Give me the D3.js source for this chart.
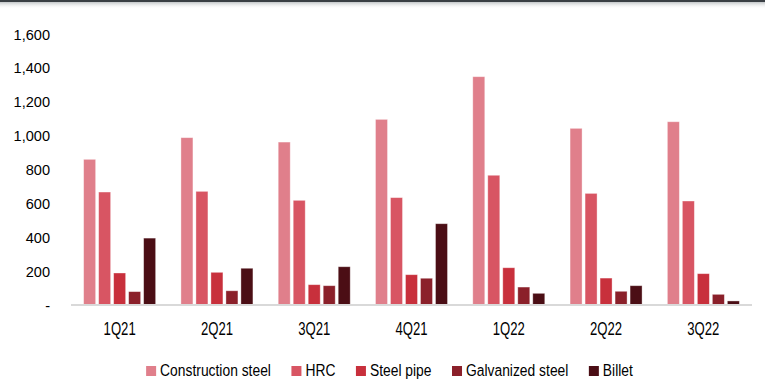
<!DOCTYPE html>
<html><head><meta charset="utf-8">
<script src="https://cdn.jsdelivr.net/npm/d3@7"></script>
<style>
html,body{margin:0;padding:0;background:#fff;}
svg{display:block;}
</style></head>
<body>
<svg id="chart" width="765" height="391"></svg>
<script>
const categories = ["1Q21","2Q21","3Q21","4Q21","1Q22","2Q22","3Q22"];
const seriesNames = ["Construction steel","HRC","Steel pipe","Galvanized steel","Billet"];
const constructionSteel = [857, 985, 959, 1093, 1345, 1040, 1079];
const hrc = [664, 668, 615, 631, 763, 656, 611];
const steelPipe = [186, 190, 117, 176, 217, 156, 182];
const galvanizedSteel = [76, 81, 111, 155, 103, 78, 60];
const billet = [392, 214, 223, 477, 66, 111, 21];
const yTicks = [0, 200, 400, 600, 800, 1000, 1200, 1400, 1600];
const colors = ["#e07f8b", "#d85563", "#c8303c", "#8b202a", "#4b0e15"];

(function(){
const seriesValues = [constructionSteel, hrc, steelPipe, galvanizedSteel, billet];
const svg = d3.select("#chart");
const FONT = "'Liberation Sans', Arial, Helvetica, sans-serif";

// top frame line with subtle shadow
const defs = svg.append("defs");
const grad = defs.append("linearGradient").attr("id","shadow").attr("x1",0).attr("y1",0).attr("x2",0).attr("y2",1);
grad.append("stop").attr("offset","0%").attr("stop-color","#9aa0a4").attr("stop-opacity",0.6);
grad.append("stop").attr("offset","100%").attr("stop-color","#ffffff").attr("stop-opacity",0);
svg.append("rect").attr("x",0).attr("y",2).attr("width",765).attr("height",7).attr("fill","url(#shadow)");
svg.append("rect").attr("x",0).attr("y",0).attr("width",765).attr("height",2).attr("fill","#3a3f44");

const mLeft = 71, mRight = 752, mTop = 33.5, mBottom = 304.5;
const x0 = d3.scaleBand().domain(categories).range([mLeft, mRight]).padding(0);
const x1 = d3.scaleBand().domain(seriesNames).range([0, 72]).paddingInner(0.2).paddingOuter(0);
const y = d3.scaleLinear().domain([0, 1600]).range([mBottom, mTop]);

// y axis labels
const yAxis = d3.axisLeft(y).tickValues(yTicks).tickSize(0).tickPadding(0)
  .tickFormat(d => d === 0 ? "-" : d3.format(",")(d));
const yg = svg.append("g").attr("transform", "translate(50,0)").call(yAxis);
yg.select(".domain").remove();
yg.selectAll("text").attr("font-family", FONT).attr("font-size","15.5px").attr("fill","#000").attr("dy","0.36em")
  .attr("transform", "scale(0.94,1)");

// bars
const groups = svg.append("g").selectAll("g").data(categories).join("g")
  .attr("transform", d => `translate(${x0(d) + (x0.bandwidth() - 72) / 2},0)`);
groups.selectAll("rect").data((c, i) => seriesNames.map((s, j) => ({s, j, v: seriesValues[j][i]})))
  .join("rect")
  .attr("x", d => x1(d.s))
  .attr("width", x1.bandwidth())
  .attr("y", d => y(d.v))
  .attr("height", d => mBottom - y(d.v))
  .attr("fill", d => colors[d.j])
  .attr("stroke", "#ffffff").attr("stroke-opacity", 0.45).attr("stroke-width", 0.8);

// x axis
const xAxis = d3.axisBottom(x0).tickSize(0).tickPadding(0);
const xg = svg.append("g").attr("transform", `translate(0,${mBottom})`).call(xAxis);
xg.select(".domain").remove();
xg.selectAll("text").attr("font-family", FONT)
  .attr("font-size","17.5px").attr("fill","#000").attr("dy","0").attr("y", 31)
  .attr("transform", "scale(0.75,1)");
svg.append("line").attr("x1", mLeft).attr("x2", mRight).attr("y1", mBottom + 0.5).attr("y2", mBottom + 0.5)
  .attr("stroke", "#d9d9d9").attr("stroke-width", 2);

// legend
const SX = 0.84;
const lg = svg.append("g");
const items = lg.selectAll("g").data(seriesNames).join("g");
items.append("rect").attr("width", 10).attr("height", 10).attr("y", 366).attr("fill", (d, i) => colors[i]);
items.append("text").attr("x", 0).attr("y", 376.5).text(d => d)
  .attr("transform", `translate(14,0) scale(${SX},1)`)
  .attr("font-family", FONT)
  .attr("font-size","16.5px").attr("fill","#000");
let xpos = 0;
const positions = [];
items.each(function(d) {
  const w = d3.select(this).select("text").node().getComputedTextLength() * SX;
  positions.push(xpos);
  xpos += 14 + w + 20.5;
});
const totalW = xpos - 20.5;
const startX = 389.5 - totalW / 2;
items.attr("transform", (d, i) => `translate(${startX + positions[i]},0)`);
})();
</script>
</body></html>
